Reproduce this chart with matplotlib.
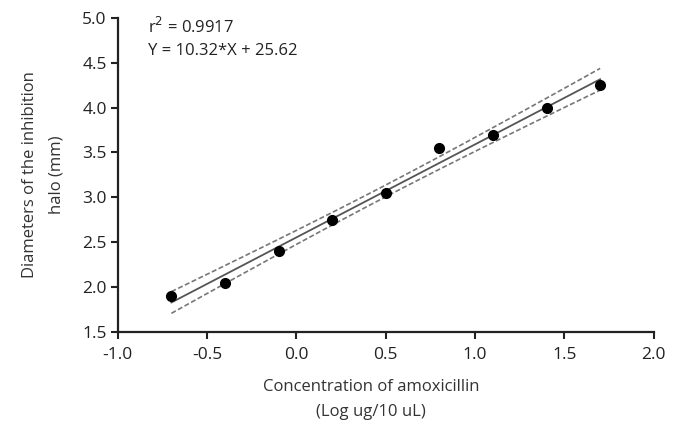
import matplotlib
matplotlib.use("Agg")
from matplotlib import pyplot as plt
import numpy as np

plt.rcParams['font.family'] = ['Open Sans', 'DejaVu Sans']

# data
conc_log = [-0.7, -0.4, -0.1, 0.2, 0.5, 0.8, 1.1, 1.4, 1.7]
halo_mm = [1.9, 2.05, 2.4, 2.75, 3.05, 3.55, 3.7, 4.0, 4.25]

x_ticks = [-1.0, -0.5, 0.0, 0.5, 1.0, 1.5, 2.0]
y_ticks = [1.5, 2.0, 2.5, 3.0, 3.5, 4.0, 4.5, 5.0]

r2_text = "r$^2$ = 0.9917"
eq_text = "Y = 10.32*X + 25.62"

# linear fit with 95% confidence band
x = np.array(conc_log)
y = np.array(halo_mm)
slope, intercept = np.polyfit(x, y, 1)
xs = np.linspace(x.min(), x.max(), 100)
fit = slope * xs + intercept
resid = y - (slope * x + intercept)
s = np.sqrt(np.sum(resid ** 2) / (len(x) - 2))
t_val = 2.365  # t(0.975, df=7)
se = s * np.sqrt(1 / len(x) + (xs - x.mean()) ** 2 / np.sum((x - x.mean()) ** 2))
band = t_val * se

fig = plt.figure(figsize=(6.81, 4.24), dpi=100)
ax = fig.add_axes([0.173, 0.217, 0.787, 0.741])

ax.plot(xs, fit, color='#555555', linewidth=1.3)
ax.plot(xs, fit + band, color='#777777', linewidth=1.2, linestyle=(0, (3, 1.5)))
ax.plot(xs, fit - band, color='#777777', linewidth=1.2, linestyle=(0, (3, 1.5)))
ax.plot(x, y, 'o', color='black', markersize=7)

ax.set_xlim(-1.0, 2.0)
ax.set_ylim(1.5, 5.0)
ax.set_xticks(x_ticks)
ax.set_yticks(y_ticks)
ax.set_xticklabels(["%.1f" % v for v in x_ticks])
ax.set_yticklabels(["%.1f" % v for v in y_ticks])

for side in ['top', 'right']:
    ax.spines[side].set_visible(False)
for side in ['left', 'bottom']:
    ax.spines[side].set_linewidth(1.6)
    ax.spines[side].set_color('#222222')
ax.tick_params(direction='out', length=5, width=1.5, labelsize=12.5,
               colors='#222222')
ax.tick_params(axis='x', pad=6)
ax.tick_params(axis='y', pad=3)

ax.set_xlabel("Concentration of amoxicillin\n(Log ug/10 uL)", fontsize=12,
              color='#333333', linespacing=1.75)
ax.xaxis.set_label_coords(0.472, -0.15, transform=ax.transAxes)
ax.xaxis.label.set_va('top')
ax.set_ylabel("Diameters of the inhibition\nhalo (mm)", fontsize=12,
              color='#333333', linespacing=1.85)
ax.yaxis.set_label_coords(-0.10, 0.5, transform=ax.transAxes)

ax.text(-0.83, 4.9, r2_text, fontsize=12, color='#222222', va='center')
ax.text(-0.83, 4.63, eq_text, fontsize=12, color='#222222', va='center')

fig.savefig("out.png", dpi=100)
